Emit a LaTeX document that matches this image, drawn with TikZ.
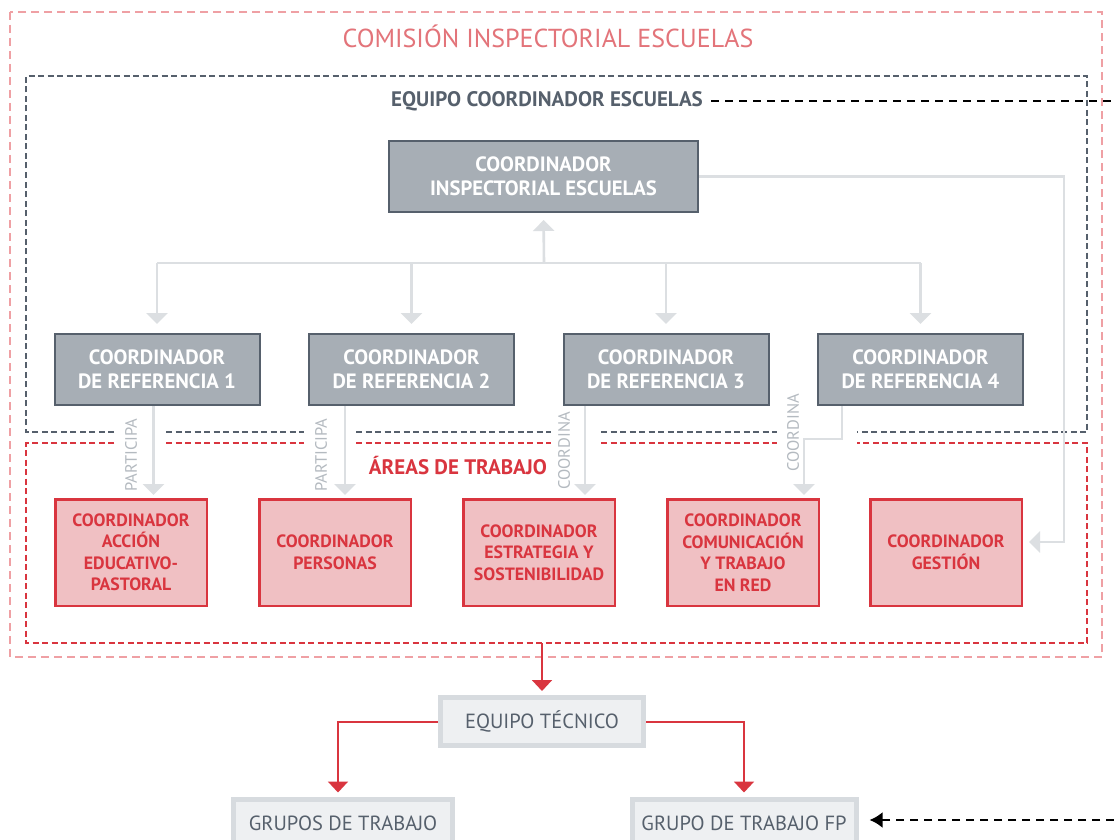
\documentclass[tikz,border=0pt]{standalone}
\usepackage{fontspec}
\setmainfont{PT Sans}
\usetikzlibrary{arrows.meta}

\definecolor{slate}{HTML}{56606C}
\definecolor{boxgrey}{HTML}{A7AEB5}
\definecolor{linkgrey}{HTML}{DCDFE2}
\definecolor{taggrey}{HTML}{B4BAC0}
\definecolor{areared}{HTML}{D9353F}
\definecolor{areafill}{HTML}{F0C0C3}
\definecolor{titlepink}{HTML}{E3747A}
\definecolor{framepink}{HTML}{EFA0A4}
\definecolor{techfill}{HTML}{EEF0F2}
\definecolor{techline}{HTML}{D7DBDF}

\begin{document}
\begin{tikzpicture}[x=1pt,y=-1pt,
    coord/.style={draw=slate, line width=2pt, fill=boxgrey, text=white, align=center,
        font=\fontsize{20.7}{24}\selectfont\bfseries, minimum height=71pt, inner sep=0pt},
    area/.style={draw=areared, line width=2.5pt, fill=areafill, text=areared, align=center,
        font=\fontsize{17.8}{21.5}\selectfont\bfseries, minimum width=151.5pt, minimum height=106.5pt, inner sep=0pt},
    tech/.style={draw=techline, line width=5pt, fill=techfill, text=slate,
        font=\fontsize{20.5}{22}\selectfont, minimum height=48pt, inner sep=0pt},
    link/.style={draw=linkgrey, line width=2.6pt},
    linkarrow/.style={link, -{Triangle[width=21pt,length=11pt]}},
    redlink/.style={draw=areared, line width=2pt, -{Triangle[width=20pt,length=11pt]}},
    tag/.style={text=taggrey, font=\fontsize{16.5}{16.5}\selectfont, rotate=90},
    crossref/.style={draw=black, line width=2.5pt, dash pattern=on 8pt off 6pt},
    greydash/.style={draw=slate, line width=1.8pt, dash pattern=on 6pt off 3.5pt},
    reddash/.style={draw=areared, line width=1.8pt, dash pattern=on 6pt off 3.5pt},
]
    \fill[white] (0,0) rectangle (1114,840);
    \useasboundingbox (0,0) rectangle (1114,840);

    % frames
    \draw[framepink, line width=2.5pt, dash pattern=on 8pt off 5pt] (10,12) rectangle (1102,657);
    \draw[greydash] (114,432) -- (26,432) -- (26,76) -- (1087,76) -- (1087,432) -- (857,432);
    \draw[reddash] (114,443) -- (26,443) -- (26,643) -- (1087,643) -- (1087,443) -- (857,443);
    \foreach \a/\b in {166/304,356/551,601/777} {
        \draw[greydash] (\a,432) -- (\b,432);
        \draw[reddash] (\a,443) -- (\b,443);
    }

    \node[text=titlepink, font=\fontsize{26}{26}\selectfont] (comision) at (548,36) {COMISIÓN INSPECTORIAL ESCUELAS};
    \node[text=slate, font=\fontsize{21}{21}\selectfont\bfseries] (equipo) at (547,101) {EQUIPO COORDINADOR ESCUELAS};
    \node[text=areared, font=\fontsize{21}{21}\selectfont\bfseries] (areas) at (458,466) {ÁREAS DE TRABAJO};

    % boxes
    \node[coord, minimum width=309pt] (cie) at (543.5,176.5) {COORDINADOR\\INSPECTORIAL ESCUELAS};
    \node[coord, minimum width=205pt] (ref1) at (157,369.5) {COORDINADOR\\DE REFERENCIA 1};
    \node[coord, minimum width=205pt] (ref2) at (411.5,369.5) {COORDINADOR\\DE REFERENCIA 2};
    \node[coord, minimum width=205pt] (ref3) at (666,369.5) {COORDINADOR\\DE REFERENCIA 3};
    \node[coord, minimum width=205pt] (ref4) at (920.5,369.5) {COORDINADOR\\DE REFERENCIA 4};

    \node[area] (acc) at (131,552.5) {COORDINADOR\\ACCIÓN\\EDUCATIVO-\\PASTORAL};
    \node[area] (pers) at (335,552.5) {COORDINADOR\\PERSONAS};
    \node[area] (estr) at (539,552.5) {COORDINADOR\\ESTRATEGIA Y\\SOSTENIBILIDAD};
    \node[area] (com) at (743,552.5) {COORDINADOR\\COMUNICACIÓN\\Y TRABAJO\\EN RED};
    \node[area] (gest) at (946,552.5) {COORDINADOR\\GESTIÓN};

    \node[tech, minimum width=203pt] (tec) at (542,721.5) {EQUIPO TÉCNICO};
    \node[tech, minimum width=219pt] (grupos) at (343,823) {GRUPOS DE TRABAJO};
    \node[tech, minimum width=224pt] (fp) at (744,823) {GRUPO DE TRABAJO FP};

    % grey connectors
    \coordinate (bus) at (544,263);
    \coordinate (gestin) at (1064,542);
    \draw[link] (ref1 |- bus) -- (ref4 |- bus);
    \draw[linkarrow, shorten >=7pt] (bus) -- (cie.south);
    \foreach \i in {1,...,4}
        \draw[linkarrow, shorten >=9pt] (ref\i |- bus) -- (ref\i.north);
    \draw[linkarrow, shorten >=6pt] (cie.east) -| (gestin) -- (gest.east |- gestin);

    \draw[linkarrow, shorten >=3pt] ([xshift=-3.5pt]ref1.south) -- ([xshift=-3.5pt]ref1.south |- acc.north);
    \draw[linkarrow, shorten >=3pt] ([xshift=-66.5pt]ref2.south) -- ([xshift=-66.5pt]ref2.south |- pers.north);
    \draw[linkarrow, shorten >=3pt] ([xshift=-81pt]ref3.south) -- ([xshift=-81pt]ref3.south |- estr.north);
    \draw[linkarrow, shorten >=3pt] ([xshift=-78.5pt]ref4.south) -- ++(0,33) -| ([xshift=61pt]com.north);

    \node[tag] (tag1) at (131,455) {PARTICIPA};
    \node[tag] (tag2) at (321,455) {PARTICIPA};
    \node[tag] (tag3) at (564,451) {COORDINA};
    \node[tag] (tag4) at (793,433) {COORDINA};

    % red connectors
    \coordinate (areasout) at (542,643);
    \draw[redlink, shorten >=4pt] (areasout) -- (tec.north);
    \draw[redlink, shorten >=4pt] (tec.west) -| ([xshift=-5pt]grupos.north);
    \draw[redlink, shorten >=4pt] (tec.east) -| (fp.north);

    % cross references
    \coordinate (xtop) at (1114,101);
    \coordinate (xbot) at (1114,820);
    \draw[crossref, shorten <=5pt] (equipo.east) -- (xtop);
    \draw[crossref, -{Latex[length=13pt,width=16pt]}, shorten >=11pt] (xbot) -- (fp.east |- xbot);
\end{tikzpicture}
\end{document}
